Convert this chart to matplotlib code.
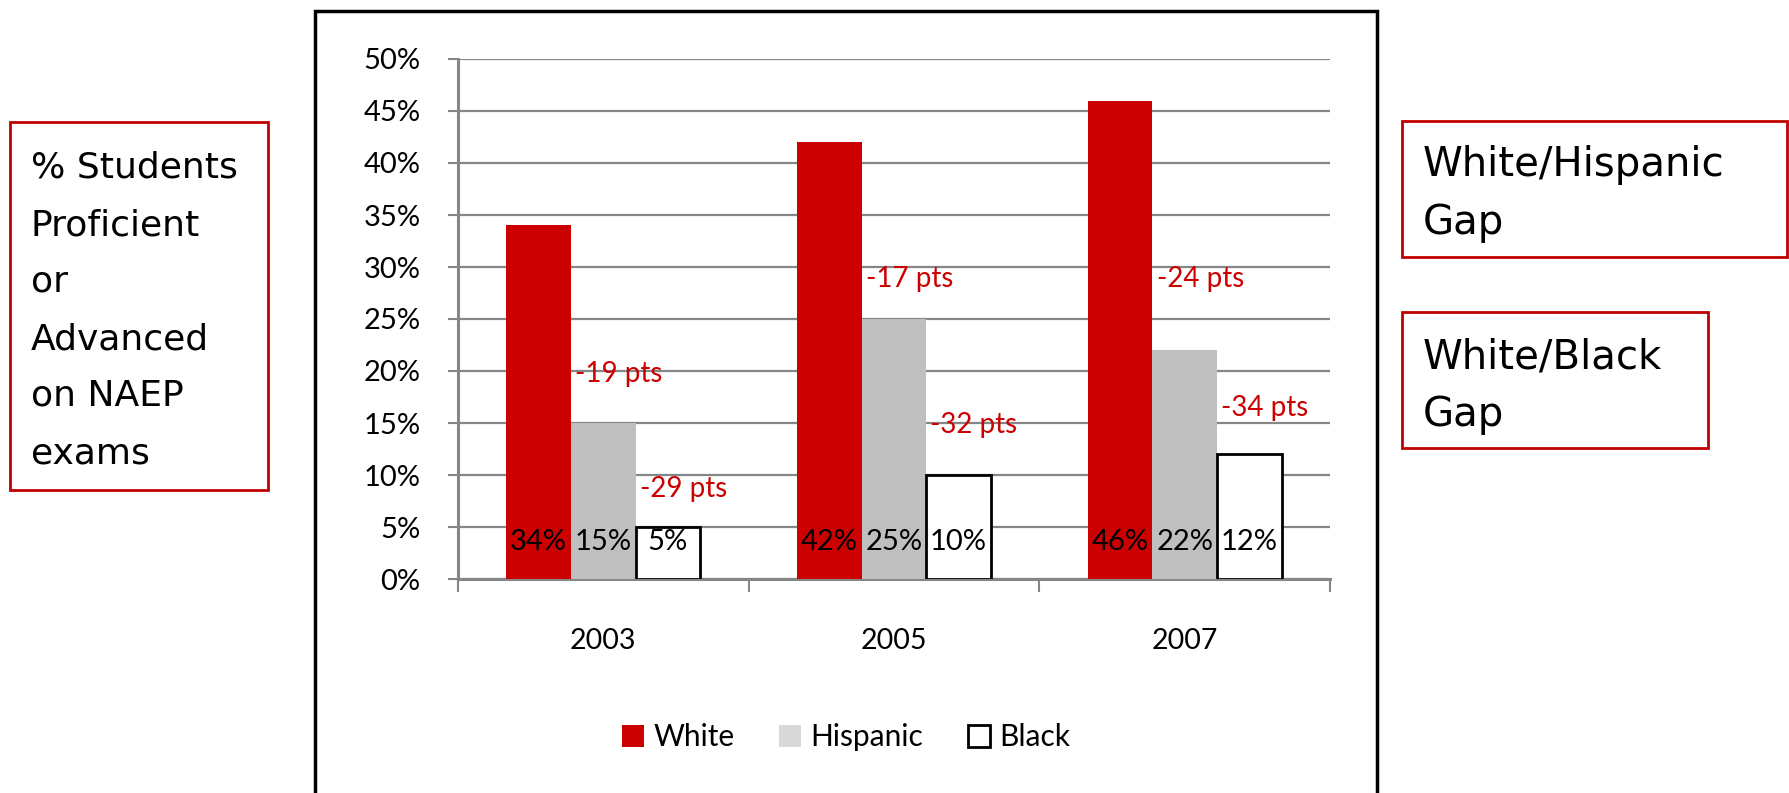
import matplotlib.pyplot as plt
from matplotlib.patches import Rectangle, Patch

years = ['2003', '2005', '2007']
white = [34, 42, 46]
hispanic = [15, 25, 22]
black = [5, 10, 12]

# hand placed heights of the red gap notes (in % units)
hisp_note_y = [19.7, 28.8, 28.8]
black_note_y = [8.65, 14.8, 16.4]

RED = '#CC0000'
GREY = '#BFBFBF'
GRID = '#868686'
BOX_RED = '#C00000'

plt.rcParams['font.family'] = ['Lato', 'DejaVu Sans']

W, H = 1790, 793
fig = plt.figure(figsize=(W / 100, H / 100), dpi=100)


def fx(px):
    return px / W


def fy(py):
    return (H - py) / H


ax = fig.add_axes([fx(458), fy(579), fx(1330) - fx(458), fy(59) - fy(579)])

bw = 1 / 4.5
x = range(len(years))
ax.bar([i - bw for i in x], white, bw, color=RED, zorder=3)
ax.bar(list(x), hispanic, bw, color=GREY, zorder=3)
ax.bar([i + bw for i in x], black, bw, facecolor='white', edgecolor='black',
       linewidth=2, zorder=3)

for i in x:
    for off, v in zip((-bw, 0, bw), (white[i], hispanic[i], black[i])):
        ax.annotate('%d%%' % v, xy=(i + off, 0), xytext=(0, 27), textcoords='offset points',
                    ha='center', va='center', fontsize=21, color='black', zorder=4)
    ax.annotate('%d pts' % (hispanic[i] - white[i]), xy=(i - bw / 2, hisp_note_y[i]),
                xytext=(3, 0), textcoords='offset points', ha='left', va='center',
                fontsize=20, color=RED, zorder=4)
    ax.annotate('%d pts' % (black[i] - white[i]), xy=(i + bw / 2, black_note_y[i]),
                xytext=(3, 0), textcoords='offset points', ha='left', va='center',
                fontsize=20, color=RED, zorder=4)

ax.set_xlim(-0.5, 2.5)
ax.set_ylim(0, 50)
ax.set_yticks(range(0, 51, 5))
ax.set_yticklabels(['%d%%' % v for v in range(0, 51, 5)])
ax.yaxis.grid(True, color=GRID, linewidth=1.6)
ax.set_axisbelow(True)
ax.tick_params(axis='y', length=7, width=1.5, color=GRID, pad=20, labelsize=21)

ax.set_xticks(list(x))
ax.set_xticklabels(years)
ax.set_xticks([-0.5, 0.5, 1.5, 2.5], minor=True)
ax.tick_params(axis='x', which='major', length=0, pad=35, labelsize=20.5)
ax.tick_params(axis='x', which='minor', length=9, width=1.5, color=GRID, direction='out')

for s in ('top', 'right'):
    ax.spines[s].set_visible(False)
for s in ('left', 'bottom'):
    ax.spines[s].set_color(GRID)
    ax.spines[s].set_linewidth(2.2)

handles = [Patch(facecolor=RED), Patch(facecolor='#D9D9D9'),
           Patch(facecolor='white', edgecolor='black', linewidth=2)]
fig.legend(handles, ['White', 'Hispanic', 'Black'], loc='center',
           bbox_to_anchor=(fx(846), fy(737)), ncol=3, frameon=False, fontsize=21.5,
           handlelength=0.75, handleheight=0.75, handletextpad=0.3, columnspacing=1.5)

# outer chart frame
fig.patches.append(Rectangle((fx(315), -0.05), fx(1377) - fx(315), fy(11) + 0.05,
                             transform=fig.transFigure, fill=False, edgecolor='black',
                             linewidth=2.5))

# side boxes
boxes = [
    ((10, 122, 268, 490), ['% Students', 'Proficient', 'or', 'Advanced', 'on NAEP', 'exams'],
     178, 57, 26),
    ((1402, 121, 1787, 257), ['White/Hispanic', 'Gap'], 176, 58, 29),
    ((1402, 312, 1708, 448), ['White/Black', 'Gap'], 368, 58, 29),
]
for (x0, y0, x1, y1), lines, base, step, size in boxes:
    fig.patches.append(Rectangle((fx(x0), fy(y1)), fx(x1) - fx(x0), fy(y0) - fy(y1),
                                 transform=fig.transFigure, fill=False, edgecolor=BOX_RED,
                                 linewidth=2))
    for k, line in enumerate(lines):
        fig.text(fx(x0 + 21), fy(base + k * step), line, family='DejaVu Sans',
                 fontsize=size, va='baseline', ha='left')

fig.savefig('out.png', dpi=100)
